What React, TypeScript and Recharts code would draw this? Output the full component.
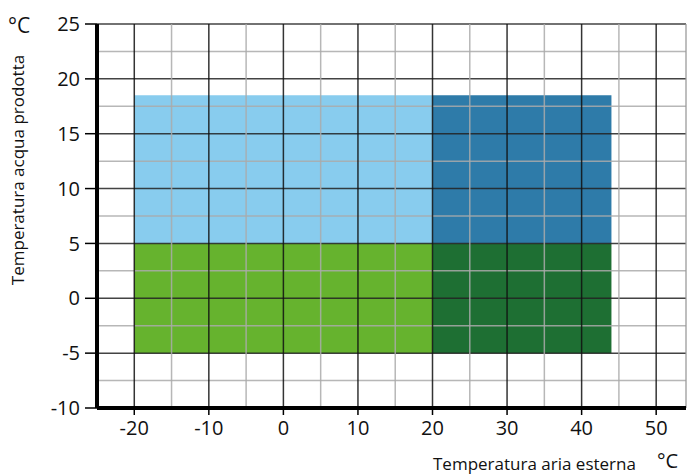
import React from 'react'
import { ComposedChart, XAxis, YAxis, ReferenceArea, ReferenceLine } from 'recharts'

// operating zones: outdoor air temp (x) vs produced water temp (y)
const zoneNames = ['freddo-alto', 'caldo-alto', 'freddo-basso', 'caldo-basso']
const zoneX1 = [-20, 20, -20, 20]
const zoneX2 = [20, 44, 20, 44]
const zoneY1 = [5, 5, -5, -5]
const zoneY2 = [18.5, 18.5, 5, 5]
const zoneColors = ['#88ccee', '#2e7ba9', '#66b32e', '#1e6f33']

const xTicks = [-20, -10, 0, 10, 20, 30, 40, 50]
const yTicks = [-10, -5, 0, 5, 10, 15, 20, 25]
const xGrid = [-20, -15, -10, -5, 0, 5, 10, 15, 20, 25, 30, 35, 40, 45, 50, 54]
const yGrid = [-7.5, -5, -2.5, 0, 2.5, 5, 7.5, 10, 12.5, 15, 17.5, 20, 22.5, 25]

const font = '"Open Sans", "Noto Sans", sans-serif'

function xLineColor(v: number) {
    if (v % 10 === 0) return '#111'
    if (v === 54) return '#999'
    return '#aaa'
}

function yLineColor(v: number) {
    if (v % 5 === 0) return '#222'
    return '#aaa'
}

export default function App() {
    const tick = { fill: '#111', fontSize: 20, fontFamily: font }
    return (
        <div style={{ position: 'fixed', left: 0, top: 0, width: 694, height: 475, background: '#fff', fontFamily: font }}>
            <ComposedChart width={694} height={475} margin={{ top: 24, right: 8, bottom: 0, left: 0 }} data={[]}>
                <XAxis
                    type="number"
                    dataKey="x"
                    domain={[-25, 54]}
                    ticks={xTicks}
                    allowDataOverflow
                    height={67}
                    tickSize={7}
                    tickMargin={6}
                    tick={tick}
                    axisLine={{ stroke: '#000', strokeWidth: 4 }}
                    tickLine={{ stroke: '#000', strokeWidth: 1.5 }}
                    tickFormatter={(v: number) => String(v)}
                />
                <YAxis
                    type="number"
                    dataKey="y"
                    domain={[-10, 25]}
                    ticks={yTicks}
                    allowDataOverflow
                    width={97}
                    tickSize={12}
                    tickMargin={5}
                    tick={tick}
                    axisLine={{ stroke: '#000', strokeWidth: 4 }}
                    tickLine={{ stroke: '#000', strokeWidth: 1.5 }}
                />
                {zoneNames.map((n, i) => (
                    <ReferenceArea
                        key={n}
                        x1={zoneX1[i]}
                        x2={zoneX2[i]}
                        y1={zoneY1[i]}
                        y2={zoneY2[i]}
                        fill={zoneColors[i]}
                        fillOpacity={1}
                        stroke="none"
                        zIndex={50}
                    />
                ))}
                {yGrid.map((v) => (
                    <ReferenceLine key={'y' + v} y={v} stroke={yLineColor(v)} strokeWidth={1.5} strokeOpacity={0.85} zIndex={450} />
                ))}
                {xGrid.map((v) => (
                    <ReferenceLine key={'x' + v} x={v} stroke={xLineColor(v)} strokeWidth={1.5} strokeOpacity={0.85} zIndex={450} />
                ))}
            </ComposedChart>
            <div style={{ position: 'absolute', left: 8, top: 11, fontSize: 21, color: '#111' }}>°C</div>
            <div
                style={{
                    position: 'absolute',
                    left: 17,
                    top: 170,
                    transform: 'translate(-50%, -50%) rotate(-90deg)',
                    whiteSpace: 'nowrap',
                    fontSize: 17,
                    color: '#111',
                }}
            >
                Temperatura acqua prodotta
            </div>
            <div style={{ position: 'absolute', left: 433, top: 452, fontSize: 17, color: '#111', whiteSpace: 'nowrap' }}>
                Temperatura aria esterna
            </div>
            <div style={{ position: 'absolute', left: 657, top: 447, fontSize: 20, color: '#111' }}>°C</div>
        </div>
    )
}
